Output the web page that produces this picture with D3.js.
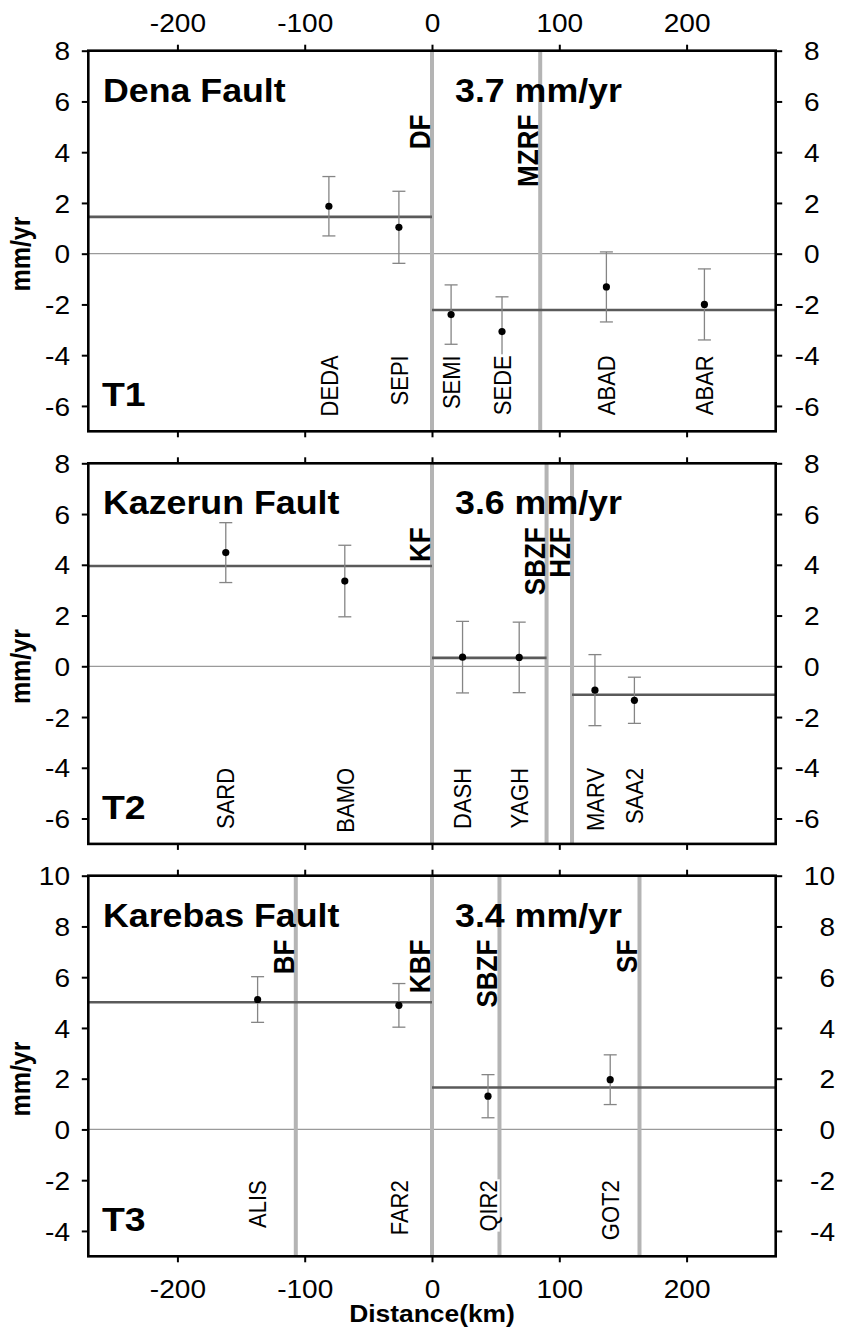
<!DOCTYPE html>
<html>
<head>
<meta charset="utf-8">
<script src="https://cdn.jsdelivr.net/npm/d3@7"></script>
<style>
  html, body { margin: 0; padding: 0; background: #fff; }
  svg { display: block; }
  text { font-family: "Liberation Sans", Arial, sans-serif; fill: #000; }
</style>
</head>
<body>
<svg id="chart" width="841" height="1333"></svg>
<script>
// ---------------- data ----------------
const xTickValues = [-200, -100, 0, 100, 200];
const xDomain = [-270, 270];
const xAxisTitle = "Distance(km)";
const yAxisTitle = "mm/yr";

const panelIds = ["T1", "T2", "T3"];
const panelTitles = ["Dena Fault", "Kazerun Fault", "Karebas Fault"];
const panelRates = ["3.7 mm/yr", "3.6 mm/yr", "3.4 mm/yr"];
const yDomains = [[-7, 8], [-7, 8], [-5, 10]];
const yTickValues = [
  [-6, -4, -2, 0, 2, 4, 6, 8],
  [-6, -4, -2, 0, 2, 4, 6, 8],
  [-4, -2, 0, 2, 4, 6, 8, 10]
];

// T1 - Dena Fault
const t1Stations = ["DEDA", "SEPI", "SEMI", "SEDE", "ABAD", "ABAR"];
const t1Distance = [-81, -26, 15, 55, 137, 214];
const t1Rate = [1.87, 1.04, -2.40, -3.07, -1.31, -2.00];
const t1Error = [1.17, 1.42, 1.17, 1.37, 1.38, 1.40];
const t1Faults = ["DF", "MZRF"];
const t1FaultDistance = [0, 85];
const t1MeanFrom = [-270, 0];
const t1MeanTo = [0, 270];
const t1MeanRate = [1.45, -2.22];

// T2 - Kazerun Fault
const t2Stations = ["SARD", "BAMO", "DASH", "YAGH", "MARV", "SAA2"];
const t2Distance = [-162, -68.5, 24, 68.5, 128, 159];
const t2Rate = [4.48, 3.36, 0.36, 0.35, -0.94, -1.34];
const t2Error = [1.18, 1.41, 1.41, 1.39, 1.40, 0.91];
const t2Faults = ["KF", "SBZF", "HZF"];
const t2FaultDistance = [0, 90, 110];
const t2MeanFrom = [-270, 0, 110];
const t2MeanTo = [0, 90, 270];
const t2MeanRate = [3.95, 0.33, -1.12];

// T3 - Karebas Fault
const t3Stations = ["ALIS", "FAR2", "QIR2", "GOT2"];
const t3Distance = [-137, -26, 44, 140];
const t3Rate = [5.12, 4.89, 1.31, 1.96];
const t3Error = [0.90, 0.86, 0.85, 0.98];
const t3Faults = ["BF", "KBF", "SBZF", "SF"];
const t3FaultDistance = [-107, 0, 53, 163];
const t3MeanFrom = [-270, 0];
const t3MeanTo = [0, 270];
const t3MeanRate = [5.01, 1.65];

// ---------------- build ----------------
const stationSets = [
  {names: t1Stations, dist: t1Distance, rate: t1Rate, err: t1Error},
  {names: t2Stations, dist: t2Distance, rate: t2Rate, err: t2Error},
  {names: t3Stations, dist: t3Distance, rate: t3Rate, err: t3Error}
];
const faultSets = [
  {names: t1Faults, dist: t1FaultDistance},
  {names: t2Faults, dist: t2FaultDistance},
  {names: t3Faults, dist: t3FaultDistance}
];
const meanSets = [
  {from: t1MeanFrom, to: t1MeanTo, rate: t1MeanRate},
  {from: t2MeanFrom, to: t2MeanTo, rate: t2MeanRate},
  {from: t3MeanFrom, to: t3MeanTo, rate: t3MeanRate}
];

// layout
const SX = 1.1;               // horizontal text stretch of the original
const left = 88.3, right = 775.7;
const panelTops = [50.7, 463.3, 875.7];
const panelH = 380.6;
const rightPad = [37.5, 37.5, 52.8];
const fmt = d => String(d);   // plain hyphen-minus like the original

const svg = d3.select("#chart");
const x = d3.scaleLinear().domain(xDomain).range([left, right]);

function stretchText(sel) {
  sel.each(function() {
    const t = d3.select(this);
    const tx = +t.attr("x") || 0, ty = +t.attr("y") || 0;
    t.attr("x", 0).attr("y", 0)
     .attr("transform", `translate(${tx},${ty}) scale(${SX},1)`);
  });
}

function addText(g, px, py, str, o) {
  const t = g.append("text")
    .attr("transform", `translate(${px},${py}) scale(${SX},1)` + (o.rotate ? " rotate(-90)" : ""))
    .attr("text-anchor", o.anchor || "start")
    .style("font-size", o.size + "px")
    .style("font-weight", o.weight || "normal")
    .text(str);
  if (o.dy) t.attr("dy", o.dy);
  return t;
}

panelIds.forEach((pid, i) => {
  const top = panelTops[i], bottom = top + panelH;
  const y = d3.scaleLinear().domain(yDomains[i]).range([bottom, top]);
  const g = svg.append("g");

  // zero line
  g.append("line")
    .attr("x1", left).attr("x2", right)
    .attr("y1", y(0)).attr("y2", y(0))
    .attr("stroke", "#9a9a9a").attr("stroke-width", 1.2);

  // fault lines
  const fs = faultSets[i];
  fs.dist.forEach(d => {
    g.append("line")
      .attr("x1", x(d)).attr("x2", x(d))
      .attr("y1", top).attr("y2", bottom)
      .attr("stroke", "#b4b4b4").attr("stroke-width", 4);
  });

  // mean lines
  const ms = meanSets[i];
  ms.rate.forEach((r, k) => {
    g.append("line")
      .attr("x1", x(ms.from[k])).attr("x2", x(ms.to[k]))
      .attr("y1", y(r)).attr("y2", y(r))
      .attr("stroke", "#5a5a5a").attr("stroke-width", 2.6);
  });

  // error bars + points
  const ss = stationSets[i];
  ss.names.forEach((n, k) => {
    const cx = x(ss.dist[k]);
    const y0 = y(ss.rate[k] - ss.err[k]), y1 = y(ss.rate[k] + ss.err[k]);
    g.append("line").attr("x1", cx).attr("x2", cx).attr("y1", y0).attr("y2", y1)
      .attr("stroke", "#858585").attr("stroke-width", 1.3);
    [y0, y1].forEach(yy => {
      g.append("line").attr("x1", cx - 6.5).attr("x2", cx + 6.5).attr("y1", yy).attr("y2", yy)
        .attr("stroke", "#858585").attr("stroke-width", 1.3);
    });
    g.append("circle").attr("cx", cx).attr("cy", y(ss.rate[k])).attr("r", 3.6).attr("fill", "#000");
  });

  // station labels (white backing hides the error bar beneath)
  ss.names.forEach((n, k) => {
    const lg = g.append("g")
      .attr("transform", `translate(${x(ss.dist[k])},${bottom - 76}) scale(${SX},1) rotate(-90)`);
    const rect = lg.append("rect").attr("fill", "#fff");
    const t = lg.append("text").attr("text-anchor", "end").attr("dy", "0.36em")
      .style("font-size", "22px").text(n);
    const bb = t.node().getBBox();
    rect.attr("x", bb.x).attr("y", bb.y + 2).attr("width", bb.width + 1).attr("height", bb.height - 4);
  });

  // fault labels
  fs.names.forEach((n, k) => {
    addText(g, x(fs.dist[k]) - 2, top + 64, n, {size: 26, weight: "bold", anchor: "end", rotate: true});
  });

  // titles
  addText(g, 103, top + 51, panelTitles[i], {size: 32.5, weight: "bold"});
  addText(g, x(0) + 23, top + 51, panelRates[i], {size: 32.5, weight: "bold"});
  addText(g, 102, bottom - 25, pid, {size: 34, weight: "bold"});

  // y-axis title
  addText(g, 29.5, top + panelH / 2 + 13, yAxisTitle, {size: 25, weight: "bold", anchor: "middle", rotate: true});

  // axes
  const yl = g.append("g").attr("transform", `translate(${left},0)`)
    .call(d3.axisLeft(y).tickValues(yTickValues[i]).tickFormat(fmt).tickSize(6.5).tickSizeOuter(0).tickPadding(11.8));
  const yr = g.append("g").attr("transform", `translate(${right},0)`)
    .call(d3.axisRight(y).tickValues(yTickValues[i]).tickFormat(fmt).tickSize(6.5).tickSizeOuter(0).tickPadding(rightPad[i]));
  const xt = g.append("g").attr("transform", `translate(0,${top})`)
    .call(d3.axisTop(x).tickValues(xTickValues).tickFormat(fmt).tickSize(6).tickSizeOuter(0).tickPadding(13));
  const xb = g.append("g").attr("transform", `translate(0,${bottom})`)
    .call(d3.axisBottom(x).tickValues(xTickValues).tickFormat(fmt).tickSize(6).tickSizeOuter(0).tickPadding(35.6));

  [yl, yr, xt, xb].forEach(ax => {
    ax.select(".domain").remove();
    ax.selectAll(".tick line").attr("stroke", "#000").attr("stroke-width", 2);
    ax.selectAll(".tick text").style("font-size", "25.5px").style("font-family", "'Liberation Sans', Arial, sans-serif").attr("fill", "#000");
  });
  yl.selectAll(".tick text").attr("dy", "0.36em");
  yr.selectAll(".tick text").attr("text-anchor", "end").attr("dy", "0.36em");
  xt.selectAll(".tick text").attr("dy", 0);
  xb.selectAll(".tick text").attr("dy", 0);
  if (i !== 0) xt.selectAll(".tick text").remove();
  if (i !== panelIds.length - 1) xb.selectAll(".tick text").remove();
  [yl, yr, xt, xb].forEach(ax => stretchText(ax.selectAll(".tick text")));

  // frame
  g.append("rect").attr("x", left).attr("y", top).attr("width", right - left).attr("height", panelH)
    .attr("fill", "none").attr("stroke", "#000").attr("stroke-width", 2.6);
});

// x-axis title
addText(svg, x(0), 1322, xAxisTitle, {size: 24, weight: "bold", anchor: "middle"});
</script>
</body>
</html>
